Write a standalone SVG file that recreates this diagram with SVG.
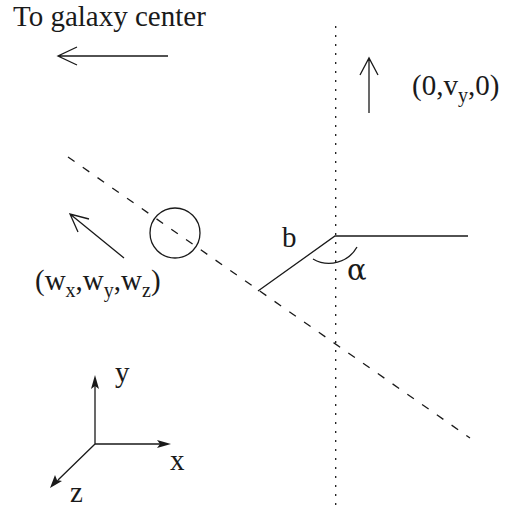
<svg xmlns="http://www.w3.org/2000/svg" width="511" height="512" viewBox="0 0 511 512" xml:lang="en">
<style>
.ln{stroke:#1a1a1a;stroke-width:1.3;fill:none}
.lbl{font-family:'Liberation Serif',serif;font-size:29px;fill:#1a1a1a}
.sub{font-size:20px}
</style>
<rect width="511" height="512" fill="#fff"/>
<text id="title" class="lbl" x="13" y="26" font-size="29.5">To galaxy center</text>
<g id="connectors">
<path class="ln" d="M168,56 L58,56 M77,47 L58,56 L77,65"/>
<path class="ln" d="M369,113 L369,58 M360,75 L369,58 L378,75"/>
<path class="ln" d="M124,258 L70,214 M89,219 L70,214 L78,232"/>
<line class="ln" x1="335.7" y1="26" x2="335.7" y2="510" stroke-width="1.4" stroke-dasharray="2 7"/>
<line class="ln" x1="68" y1="157" x2="470" y2="438" stroke-dasharray="8 10"/>
<path class="ln" d="M258,291 L335,236 L468,236"/>
<path class="ln" d="M313,259 A32,32 0 0 0 357,247"/>
<path class="ln" d="M95,444 L95,386 M95,444 L160,444 M95,444 L58,480"/>
</g>
<g id="axis-heads" fill="#1a1a1a">
<polygon points="95,375 99,389 95,386 91,389"/>
<polygon points="171,444 157,448 160,444 157,440"/>
<polygon points="50,488 55,475 57,480 62,481"/>
</g>
<g id="star"><circle class="ln" cx="175" cy="233" r="25"/></g>
<text id="vlabel" class="lbl" x="412" y="95">(0,v<tspan class="sub" dy="7">y</tspan><tspan dy="-7">,0)</tspan></text>
<text id="wlabel" class="lbl" x="35" y="290">(w<tspan class="sub" dy="7">x</tspan><tspan dy="-7">,w</tspan><tspan class="sub" dy="7">y</tspan><tspan dy="-7">,w</tspan><tspan class="sub" dy="7">z</tspan><tspan dy="-7">)</tspan></text>
<text id="blabel" class="lbl" x="282" y="247">b</text>
<text id="alabel" x="347" y="280" font-size="29" fill="#1a1a1a" font-family="'DejaVu Serif', serif">α</text>
<text id="ylabel" class="lbl" x="115" y="382">y</text>
<text id="xlabel" class="lbl" x="170" y="470">x</text>
<text id="zlabel" class="lbl" x="70" y="502">z</text>
</svg>
